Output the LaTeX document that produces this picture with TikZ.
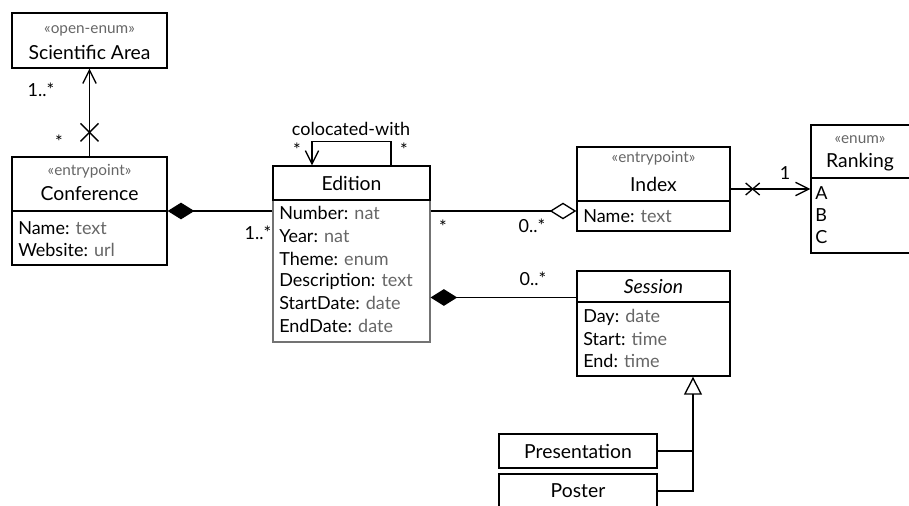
\documentclass[tikz,border=0pt]{standalone}
\usepackage{fontspec}
\setmainfont{Lato}
\usetikzlibrary{arrows.meta,fit}

\begin{document}
\begin{tikzpicture}[x=0.75pt,y=-0.75pt,
  box/.style={draw,line width=1pt,inner sep=0pt},
  stereo/.style={text=black!60,font=\fontsize{11.5}{13}\selectfont},
  cname/.style={font=\fontsize{14.5}{17}\selectfont},
  attr/.style={anchor=west,inner sep=0pt,font=\fontsize{13.5}{16}\selectfont},
  mult/.style={font=\fontsize{13.5}{16}\selectfont},
  line/.style={line width=1pt},
  comp/.style={line,{Diamond[length=20pt,width=12.5pt]}-},
  aggr/.style={line,-{Diamond[open,length=20pt,width=12.5pt]}},
  nav/.style={line,-{Straight Barb[length=10pt,width=10pt]}},
  gen/.style={line,-{Triangle[open,length=13.5pt,width=13.5pt]}}]
\useasboundingbox (0,0) rectangle (909,506);

% classes
\node[box,fit={(12,13) (167,68)}] (area) {};
\node[stereo] (areast) at (89.5,31) {«open-enum»};
\node[cname] (areanm) at (89.5,52) {Scientific Area};

\node[box,fit={(12,157) (167,265)}] (conf) {};
\draw[line] (conf.west |- 0,211) -- (conf.east |- 0,211);
\node[stereo] (confst) at (89.5,171) {«entrypoint»};
\node[cname] (confnm) at (89.5,194) {Conference};
\node[attr] (confa1) at (18,228) {Name: \textcolor{black!60}{text}};
\node[attr] (confa2) at (18,250) {Website: \textcolor{black!60}{url}};

\node[box,draw=black!55,line width=0.8pt,fit={(273,166) (430,342)}] (edition) {};
\node[box,fit={(273,166) (430,200)}] (edhead) {};
\node[cname] (ednm) at (edhead) {Edition};
\node[attr] (eda1) at (279,213) {Number: \textcolor{black!60}{nat}};
\node[attr] (eda2) at (279,236) {Year: \textcolor{black!60}{nat}};
\node[attr] (eda3) at (279,259) {Theme: \textcolor{black!60}{enum}};
\node[attr] (eda4) at (279,281) {Description: \textcolor{black!60}{text}};
\node[attr] (eda5) at (279,303) {StartDate: \textcolor{black!60}{date}};
\node[attr] (eda6) at (279,326) {EndDate: \textcolor{black!60}{date}};

\node[box,fit={(577,147) (730,231)}] (index) {};
\draw[line] (index.west |- 0,201) -- (index.east |- 0,201);
\node[stereo] (indexst) at (653.5,158) {«entrypoint»};
\node[cname] (indexnm) at (653.5,184) {Index};
\node[attr] (indexa1) at (583,216) {Name: \textcolor{black!60}{text}};

\node[box,fit={(811,125) (910,253)}] (rank) {};
\draw[line] (rank.west |- 0,178) -- (rank.east |- 0,178);
\node[stereo] (rankst) at (860,140) {«enum»};
\node[cname] (ranknm) at (860,162) {Ranking};
\node[attr] (ranka) at (815,193) {A};
\node[attr] (rankb) at (815,215) {B};
\node[attr] (rankc) at (815,237) {C};

\node[box,fit={(577,271) (730,376)}] (session) {};
\draw[line] (session.west |- 0,302) -- (session.east |- 0,302);
\node[cname] (sessnm) at (653.5,287) {\textit{Session}};
\node[attr] (sessa1) at (583,317) {Day: \textcolor{black!60}{date}};
\node[attr] (sessa2) at (583,339) {Start: \textcolor{black!60}{time}};
\node[attr] (sessa3) at (583,361) {End: \textcolor{black!60}{time}};

\node[box,fit={(499,434) (657,468)}] (pres) {};
\node[cname] (presnm) at (pres) {Presentation};
\node[box,fit={(499,474) (657,508)}] (poster) {};
\node[cname] (posternm) at (578,491) {Poster};

% associations
\draw[nav] (conf.north) -- (area.south);
\coordinate (xarea) at ([shift={(0,-24)}]conf.north);
\draw[line] ([shift={(-9,-9)}]xarea) -- ([shift={(9,9)}]xarea);
\draw[line] ([shift={(-9,9)}]xarea) -- ([shift={(9,-9)}]xarea);
\node[mult] (m1) at (41,90) {1..*};
\node[mult] (m2) at (59,142) {*};

\draw[comp] (conf.east) -- (edition.west |- conf.east);
\node[mult] (m3) at (258,233) {1..*};

\draw[nav] ([shift={(39.5,0)}]edition.north) |- ([shift={(-39.5,-24)}]edition.north)
  -- ([shift={(-39.5,0)}]edition.north);
\node[mult] (loopnm) at (351,129) {colocated-with};
\node[mult] (m4) at (297,150) {*};
\node[mult] (m5) at (404,150) {*};

\draw[aggr] (edition.east |- conf.east) -- (index.west |- conf.east);
\node[mult] (m6) at (443,227) {*};
\node[mult] (m7) at (532,226) {0..*};

\draw[nav] (index.east) -- (rank.west);
\coordinate (xrank) at ([shift={(22,0)}]index.east);
\draw[line] ([shift={(-7,-6)}]xrank) -- ([shift={(7,6)}]xrank);
\draw[line] ([shift={(-7,6)}]xrank) -- ([shift={(7,-6)}]xrank);
\node[mult] (m8) at (785,173) {1};

\coordinate (sessjoin) at ([shift={(0,-26)}]session.west);
\draw[comp] (edition.east |- sessjoin) -- (sessjoin);
\node[mult] (m9) at (533,279) {0..*};

% generalization
\coordinate (genpt) at ([shift={(39.5,0)}]session.south);
\draw[gen] (poster.east) -| (genpt);
\draw[line] (pres.east) -- (pres.east -| genpt);
\end{tikzpicture}
\end{document}
